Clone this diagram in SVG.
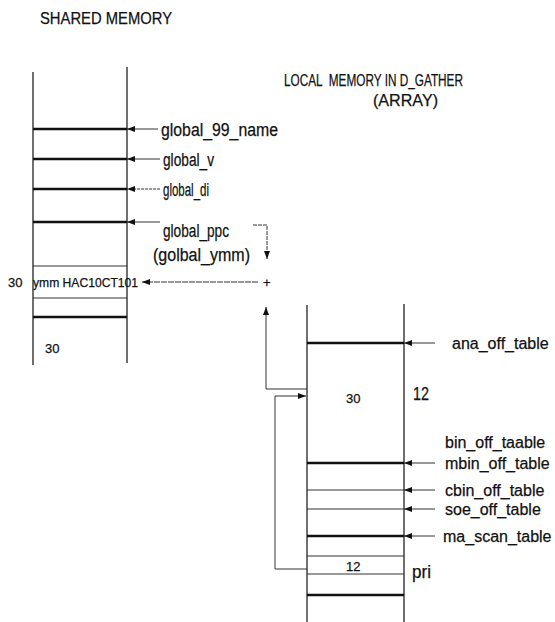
<svg xmlns="http://www.w3.org/2000/svg" width="555" height="622" viewBox="0 0 555 622">
<defs>
<marker id="ah" markerUnits="userSpaceOnUse" markerWidth="8" markerHeight="6" refX="8" refY="3" orient="auto">
<path d="M0,0 L8,3 L0,6 z" fill="#111"/>
</marker>
</defs>
<style>
text{font-family:"Liberation Sans",Arial,sans-serif;fill:#111;stroke:#111;stroke-width:0.25}
.t{font-size:18px}
.r{font-size:16px}
.h{font-size:17px}
.s{font-size:13px}
.col{stroke:#222;stroke-width:1.3;fill:none}
.thick{stroke:#111;stroke-width:2.6}
.thin{stroke:#333;stroke-width:1}
.conn{stroke:#333;stroke-width:1;fill:none}
</style>
<rect width="555" height="622" fill="#fff"/>
<text class="h" x="40" y="24" textLength="132" lengthAdjust="spacingAndGlyphs">SHARED MEMORY</text>
<text class="h" x="284" y="86" textLength="179" lengthAdjust="spacingAndGlyphs" xml:space="preserve">LOCAL  MEMORY IN D_GATHER</text>
<text class="h" x="373" y="106" textLength="65" lengthAdjust="spacingAndGlyphs">(ARRAY)</text>

<g id="shared-memory">
<line class="col" x1="33" y1="72" x2="33" y2="365"/>
<line class="col" x1="127" y1="67" x2="127" y2="363"/>
<line class="thick" x1="33" y1="129" x2="127" y2="129"/>
<line class="thick" x1="33" y1="159" x2="127" y2="159"/>
<line class="thick" x1="33" y1="189" x2="127" y2="189"/>
<line class="thick" x1="33" y1="222" x2="127" y2="222"/>
<line class="thin" x1="33" y1="266" x2="127" y2="266"/>
<line class="thin" x1="33" y1="298" x2="127" y2="298"/>
<line class="thick" x1="33" y1="317" x2="127" y2="317"/>
<text class="s" x="8" y="287">30</text>
<text class="s" x="33" y="287" textLength="105" lengthAdjust="spacingAndGlyphs">ymm HAC10CT101</text>
<text class="s" x="45" y="353">30</text>
</g>

<g id="local-memory">
<line class="col" x1="307" y1="305" x2="307" y2="622"/>
<line class="col" x1="404" y1="304" x2="404" y2="622"/>
<line class="thick" x1="307" y1="343" x2="404" y2="343"/>
<line class="thick" x1="307" y1="463" x2="404" y2="463"/>
<line class="thin" x1="307" y1="490" x2="404" y2="490"/>
<line class="thin" x1="307" y1="509" x2="404" y2="509"/>
<line class="thick" x1="307" y1="536" x2="404" y2="536"/>
<line class="thin" x1="307" y1="556" x2="404" y2="556"/>
<line class="thin" x1="307" y1="574" x2="404" y2="574"/>
<line class="thick" x1="307" y1="595" x2="404" y2="595"/>
<text class="s" x="346" y="403">30</text>
<text class="t" x="413" y="400" textLength="16" lengthAdjust="spacingAndGlyphs">12</text>
<text class="s" x="346" y="571">12</text>
<text class="t" x="412" y="578" textLength="19" lengthAdjust="spacingAndGlyphs">pri</text>
</g>

<g id="labels">
<text class="t" x="161" y="136" textLength="117" lengthAdjust="spacingAndGlyphs">global_99_name</text>
<text class="t" x="163" y="166" textLength="51" lengthAdjust="spacingAndGlyphs">global_v</text>
<text class="t" x="163" y="196" textLength="46" lengthAdjust="spacingAndGlyphs">global_di</text>
<text class="t" x="163" y="237" textLength="66" lengthAdjust="spacingAndGlyphs">global_ppc</text>
<text class="t" x="153" y="261" textLength="97" lengthAdjust="spacingAndGlyphs">(golbal_ymm)</text>
<text class="r" x="452" y="349">ana_off_table</text>
<text class="r" x="445" y="448">bin_off_taable</text>
<text class="r" x="445" y="469">mbin_off_table</text>
<text class="r" x="445" y="496">cbin_off_table</text>
<text class="r" x="445" y="515">soe_off_table</text>
<text class="r" x="443" y="542">ma_scan_table</text>
<text class="s" x="263" y="287">+</text>
</g>

<g id="connectors">
<line class="conn" x1="158" y1="129" x2="127" y2="129" marker-end="url(#ah)"/>
<line class="conn" x1="160" y1="159" x2="127" y2="159" marker-end="url(#ah)"/>
<line class="conn" x1="160" y1="189" x2="127" y2="189" marker-end="url(#ah)" stroke-dasharray="3,1"/>
<line class="conn" x1="160" y1="222" x2="127" y2="222" marker-end="url(#ah)"/>
<polyline class="conn" points="253,225 267,225 267,259" marker-end="url(#ah)" stroke-dasharray="4,1"/>
<line class="conn" x1="258" y1="282" x2="142" y2="282" marker-end="url(#ah)" stroke-dasharray="6,1"/>
<polyline class="conn" points="307,389 266,389 266,307" marker-end="url(#ah)"/>
<polyline class="conn" points="307,569 275,569 275,396 306,396" marker-end="url(#ah)"/>
<line class="conn" x1="435" y1="343" x2="404" y2="343" marker-end="url(#ah)"/>
<line class="conn" x1="435" y1="463" x2="404" y2="463" marker-end="url(#ah)"/>
<line class="conn" x1="435" y1="490" x2="404" y2="490" marker-end="url(#ah)"/>
<line class="conn" x1="435" y1="509" x2="404" y2="509" marker-end="url(#ah)"/>
<line class="conn" x1="435" y1="536" x2="404" y2="536" marker-end="url(#ah)"/>
</g>
</svg>
